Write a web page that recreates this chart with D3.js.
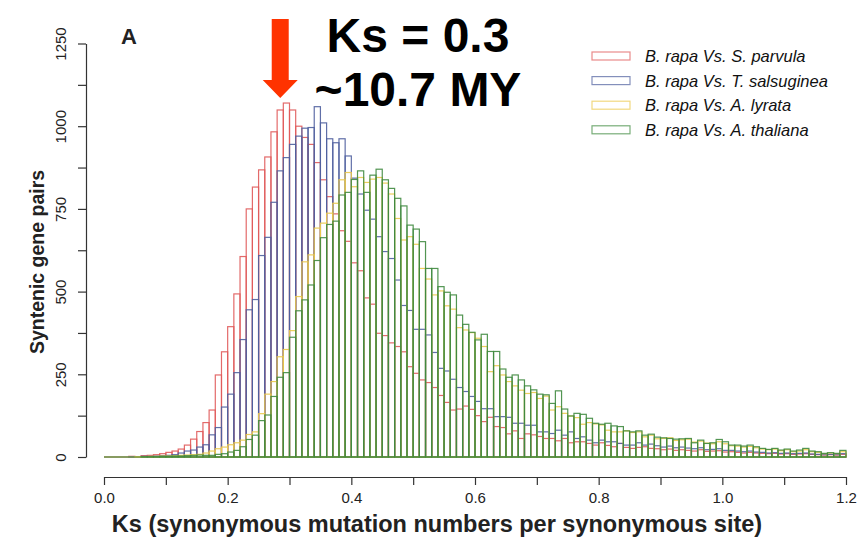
<html>
<head>
  <title>Ks distribution</title>
  <script src="https://d3js.org/d3.v7.min.js"></script>
  <meta charset="utf-8">
</head>

<style>
  body {
    margin: 0;
    background: #fff;
  }

  text {
    font-family: 'Liberation Sans', Arial, sans-serif;
  }

  .axis path,
  .axis line {
    fill: none;
    stroke: #333;
    stroke-width: 1.2;
  }
</style>

<body>
  <div class="chart"></div>

  <script>
    // histogram bins of 0.01 Ks, counts
    var binWidth = 0.01;

    var seriesNames = [
      "B. rapa Vs. S. parvula",
      "B. rapa Vs. T. salsuginea",
      "B. rapa Vs. A. lyrata",
      "B. rapa Vs. A. thaliana"
    ];
    var seriesColors = ["#e05a5a", "#4f5f9e", "#ebc94a", "#3f8a3f"];

    var sParvula = [
      0, 0, 0, 0, 2, 1, 4, 5, 7, 10,
      14, 18, 24, 36, 54, 77, 104, 142, 248, 318,
      394, 493, 606, 750, 816, 868, 907, 983, 1049, 1070,
      1049, 1000, 966, 945, 890, 838, 787, 735, 684, 652,
      587, 563, 481, 462, 374, 367, 345, 334, 318, 273,
      253, 233, 225, 210, 186, 165, 142, 145, 154, 144,
      125, 107, 120, 92, 89, 70, 79, 56, 70, 67,
      62, 56, 56, 49, 56, 43, 46, 46, 41, 36,
      43, 35, 31, 41, 29, 26, 29, 31, 26, 25,
      22, 24, 20, 22, 20, 18, 22, 17, 18, 19,
      15, 16, 14, 12, 14, 12, 11, 10, 11, 9,
      10, 8, 9, 10, 8, 7, 6, 7, 6, 8
    ];

    var tSalsuginea = [
      0, 0, 0, 0, 1, 1, 2, 2, 3, 4,
      5, 7, 12, 18, 21, 30, 37, 67, 89, 151,
      190, 255, 355, 445, 476, 609, 664, 770, 865, 905,
      945, 970, 994, 996, 1059, 1010, 962, 950, 962, 910,
      843, 795, 746, 719, 666, 621, 600, 535, 458, 443,
      386, 386, 369, 316, 268, 260, 235, 210, 198, 183,
      168, 146, 146, 122, 122, 120, 102, 102, 96, 96,
      76, 76, 71, 81, 66, 76, 56, 61, 51, 43,
      51, 46, 46, 41, 36, 36, 43, 36, 39, 34,
      30, 33, 28, 30, 27, 25, 28, 22, 23, 25,
      20, 20, 18, 16, 18, 15, 14, 12, 13, 11,
      12, 10, 11, 12, 9, 8, 7, 8, 7, 10
    ];

    var aLyrata = [
      0, 0, 0, 0, 0, 1, 1, 2, 2, 3,
      3, 4, 5, 6, 7, 8, 12, 18, 25, 30,
      37, 43, 51, 68, 76, 131, 190, 228, 303, 325,
      382, 485, 590, 611, 692, 707, 737, 767, 838, 860,
      817, 845, 830, 840, 845, 828, 795, 721, 656, 666,
      643, 570, 538, 490, 502, 457, 447, 391, 384, 376,
      359, 334, 258, 276, 248, 228, 215, 202, 192, 195,
      177, 184, 142, 152, 132, 124, 119, 99, 104, 100,
      97, 81, 76, 76, 79, 74, 76, 61, 66, 55,
      56, 58, 50, 52, 54, 45, 48, 42, 40, 46,
      40, 34, 33, 30, 32, 28, 24, 22, 24, 19,
      22, 16, 18, 22, 16, 14, 10, 12, 10, 16
    ];

    var aThaliana = [
      0, 0, 0, 0, 0, 0, 1, 1, 1, 2,
      2, 3, 3, 4, 5, 6, 5, 5, 8, 10,
      15, 20, 31, 53, 66, 110, 127, 183, 241, 255,
      362, 442, 475, 520, 594, 663, 703, 713, 792, 800,
      839, 865, 800, 852, 870, 838, 812, 782, 759, 701,
      689, 651, 570, 570, 515, 498, 490, 429, 401, 377,
      354, 371, 319, 319, 266, 241, 248, 233, 215, 203,
      190, 188, 162, 200, 145, 124, 132, 129, 117, 102,
      99, 102, 94, 92, 79, 76, 79, 66, 69, 60,
      58, 56, 54, 55, 56, 43, 51, 41, 43, 53,
      46, 36, 36, 33, 36, 31, 26, 23, 26, 21,
      24, 18, 21, 26, 18, 16, 11, 13, 11, 20
    ];

    var xTicks = [0, 0.1, 0.2, 0.3, 0.4, 0.5, 0.6, 0.7, 0.8, 0.9, 1.0, 1.1, 1.2];
    var yTicks = [0, 125, 250, 375, 500, 625, 750, 875, 1000, 1125, 1250];

    var allSeries = [sParvula, tSalsuginea, aLyrata, aThaliana];

    var width = 858,
        height = 543;

    var svg = d3.select('.chart')
      .append('svg')
        .attr('width', width)
        .attr('height', height);

    var x = d3.scaleLinear().domain([0, 1.2]).range([104, 846]),
        y = d3.scaleLinear().domain([0, 1250]).range([457, 43.5]);

    // histograms, drawn as outlines one over another
    allSeries.forEach(function(vals, s) {
      var g = svg.append("g")
          .attr("class", "hist");

      // bottom edge of all bins (empty bins show only this)
      g.append("line")
          .attr("x1", x(0))
          .attr("x2", x(vals.length * binWidth))
          .attr("y1", y(0))
          .attr("y2", y(0))
          .style("stroke", seriesColors[s])
          .style("stroke-width", 1.2)
          .style("stroke-opacity", 0.9);

      g.selectAll("rect")
        .data(vals)
        .enter().append("rect")
          .attr("x", function(d, i) { return x(i * binWidth); })
          .attr("width", x(binWidth) - x(0))
          .attr("y", function(d) { return y(d); })
          .attr("height", function(d) { return y(0) - y(d); })
          .style("fill", "none")
          .style("stroke", seriesColors[s])
          .style("stroke-width", 1.2)
          .style("stroke-opacity", 0.9);
    });

    // x axis, R style, offset below the bars
    svg.append("g")
        .attr("class", "axis")
        .attr("transform", "translate(0,477)")
        .style("font", "15px 'Liberation Sans'")
        .call(d3.axisBottom(x)
          .tickValues(xTicks)
          .tickSize(8)
          .tickSizeOuter(0)
          .tickPadding(7)
          .tickFormat(function(d, i) { return i % 2 === 0 ? d3.format(".1f")(d) : ""; }))
        .selectAll("text").style("fill", "#222");

    // y axis with rotated labels
    var yAxis = svg.append("g")
        .attr("class", "axis")
        .attr("transform", "translate(86,0)")
        .style("font", "15px 'Liberation Sans'")
        .call(d3.axisLeft(y)
          .tickValues(yTicks)
          .tickSize(8)
          .tickSizeOuter(0)
          .tickFormat(function(d, i) { return i % 2 === 0 ? d : ""; }));

    yAxis.selectAll("text")
        .attr("transform", "rotate(-90)")
        .attr("x", 0)
        .attr("y", -20)
        .attr("dy", 0)
        .style("text-anchor", "middle")
        .style("fill", "#222");

    // axis titles
    svg.append("text")
        .attr("x", 437)
        .attr("y", 532)
        .style("text-anchor", "middle")
        .style("font", "bold 23.5px 'Liberation Sans'")
        .style("fill", "#222")
        .text("Ks (synonymous mutation numbers per synonymous site)");

    svg.append("text")
        .attr("transform", "translate(44,262) rotate(-90)")
        .style("text-anchor", "middle")
        .style("font", "bold 19.5px 'Liberation Sans'")
        .style("fill", "#222")
        .text("Syntenic gene pairs");

    // panel letter
    svg.append("text")
        .attr("x", 121)
        .attr("y", 44)
        .style("font", "bold 22px 'Liberation Sans'")
        .style("fill", "#222")
        .text("A");

    // legend
    var legend = svg.append("g")
        .attr("transform", "translate(592,56)");

    seriesNames.forEach(function(name, i) {
      var row = legend.append("g")
          .attr("transform", "translate(0," + (i * 24.6) + ")");
      row.append("rect")
          .attr("x", 0)
          .attr("y", -4)
          .attr("width", 38)
          .attr("height", 8)
          .style("fill", "none")
          .style("stroke", seriesColors[i])
          .style("stroke-width", 1.2)
          .style("stroke-opacity", 0.7);
      row.append("text")
          .attr("x", 53)
          .attr("y", 6)
          .style("font", "italic 16.5px 'Liberation Sans'")
          .style("fill", "#111")
          .text(name);
    });

    // annotation: arrow at the S. parvula peak
    var ax = x(0.285);
    svg.append("path")
        .attr("d", "M" + (ax - 8.5) + ",19 L" + (ax + 8.5) + ",19 L" + (ax + 8.5) + ",80 L" +
                   (ax + 17.5) + ",80 L" + ax + ",98 L" + (ax - 17.5) + ",80 L" +
                   (ax - 8.5) + ",80 Z")
        .style("fill", "#ff3300");

    svg.append("text")
        .attr("x", 418)
        .attr("y", 52)
        .style("text-anchor", "middle")
        .style("font", "bold 48px 'Liberation Sans'")
        .style("fill", "#000")
        .text("Ks = 0.3");

    svg.append("text")
        .attr("x", 418)
        .attr("y", 106)
        .style("text-anchor", "middle")
        .style("font", "bold 48px 'Liberation Sans'")
        .style("fill", "#000")
        .text("~10.7 MY");
  </script>

</body>
</html>
